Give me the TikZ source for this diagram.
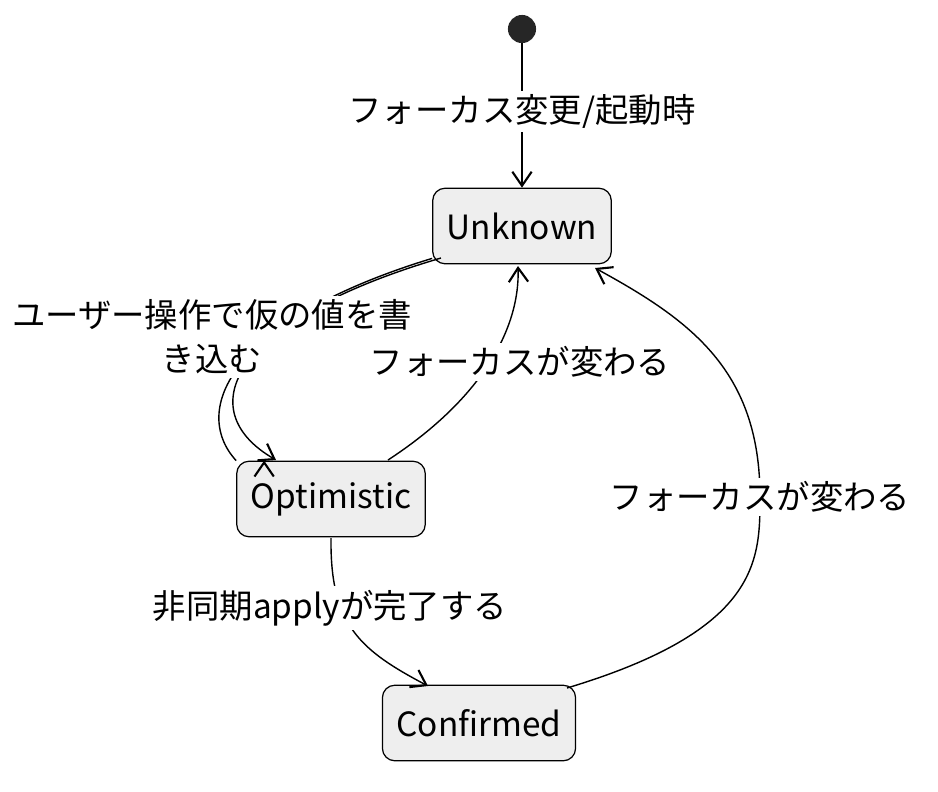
\documentclass[tikz,border=0pt]{standalone}
\usepackage{fontspec}
\setmainfont{Noto Sans CJK JP}
\usetikzlibrary{arrows.meta}
\definecolor{boxgray}{HTML}{EEEEEE}
\begin{document}
\begin{tikzpicture}[x=0.02cm,y=-0.02cm,font=\fontsize{19}{25}\selectfont]
\tikzstyle{state}=[draw=black,fill=boxgray,rounded corners=7pt,line width=0.7pt,minimum height=43pt,inner xsep=8pt]
\tikzstyle{edge}=[line width=0.8pt,-{Straight Barb[length=8pt,width=11pt,line width=1.2pt]}]
\tikzstyle{lbl}=[fill=white,inner sep=2pt,align=center]
\useasboundingbox (0,0) rectangle (938,792);
\node[circle,fill=black!85,minimum size=16pt,inner sep=0pt] (start) at (522,29) {};
\foreach \name/\point/\w/\txt in {
	unk/{522,226}/92pt/Unknown,
	opt/{331,499}/95pt/Optimistic,
	conf/{479,723}/99pt/Confirmed}
	\node[state,minimum width=\w] (\name) at (\point) {\txt};
\coordinate (rt) at (760,497);
\draw[edge] (start) -- (unk) node[lbl,pos=0.47] {フォーカス変更/起動時};
\draw[edge] (unk.south west) ++(0,-6) .. controls (230,320) and (190,410) .. (opt.north west) ++(28,0);
\draw[edge] (441,258) .. controls (230,320) and (190,410) .. (276,460);
\node[lbl] (l1) at (212,337) {ユーザー操作で仮の値を書\\き込む};
\draw[edge] (388,460) .. controls (480,400) and (520,330) .. (518,266);
\node[lbl] (l2) at (520,362) {フォーカスが変わる};
\draw[edge] (331,538) .. controls (330,625) and (360,650) .. (428,686);
\node[lbl] (l3) at (330,608) {非同期applyが完了する};
\draw[line width=0.8pt] (567,688) .. controls (760,630) and (760,560) .. (rt);
\draw[edge] (rt) .. controls (760,370) and (690,320) .. (595,268);
\node[lbl] (l4) at (rt) {フォーカスが変わる};
\end{tikzpicture}
\end{document}
